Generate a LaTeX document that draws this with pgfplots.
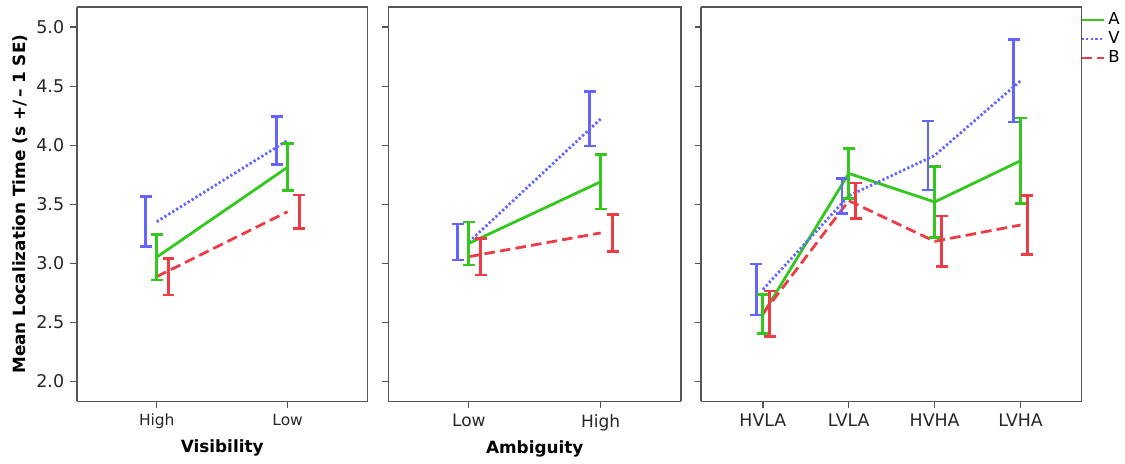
\documentclass[border=0pt]{standalone}
\usepackage{fontspec}
\setmainfont{DejaVu Sans}
\usepackage{pgfplots}
\usepackage{pgfplotstable}
\pgfplotsset{compat=1.18}
\definecolor{cA}{RGB}{52,200,30}
\definecolor{cV}{RGB}{100,100,255}
\definecolor{cB}{RGB}{238,60,70}
\definecolor{frame}{RGB}{85,85,85}

% x, mean and half SE bar per group
\pgfplotstableread{
x  A      Ae     V      Ve     B      Be
0  3.052  0.193  3.352  0.211  2.887  0.155
1  3.814  0.200  4.041  0.204  3.437  0.140
}\visib
\pgfplotstableread{
x  A      Ae     V      Ve     B      Be
0  3.168  0.182  3.180  0.152  3.056  0.155
1  3.690  0.231  4.222  0.230  3.257  0.158
}\ambig
\pgfplotstableread{
x  A      Ae     V      Ve     B      Be
0  2.568  0.165  2.778  0.215  2.573  0.193
1  3.761  0.212  3.571  0.148  3.530  0.150
2  3.519  0.299  3.913  0.293  3.186  0.214
3  3.868  0.361  4.545  0.348  3.324  0.248
}\combo

\pgfplotsset{
  panel/.style={
    scale only axis, height=7.90cm,
    anchor=south west,
    ymin=1.83, ymax=5.17,
    ytick={2,2.5,...,5},
    axis line style={frame, line width=0.8pt},
    axis x line*=bottom, axis y line*=left,
    tick align=outside, tick style={frame, line width=0.7pt},
    major tick length=0.13cm,
    xtick=data,
    yticklabel style={font=\fontsize{10}{12}\selectfont, text=black!85},
    xticklabel style={font=\fontsize{8.8}{10}\selectfont, text=black!85},
    xlabel style={font=\bfseries\fontsize{9.6}{11}\selectfont, yshift=1pt},
    /pgf/number format/assume math mode=true,
    /pgf/number format/fixed, /pgf/number format/fixed zerofill,
    /pgf/number format/precision=1,
    clip=false,
  },
  boxtop/.style={
    after end axis/.code={
      \draw[frame, line width=0.8pt] (rel axis cs:0,1) -- (rel axis cs:1,1) -- (rel axis cs:1,0);
    }
  },
  lineA/.style={cA, line width=1.6pt, no marks},
  lineV/.style={cV, line width=1.6pt, no marks, dash pattern=on 1.3pt off 1.3pt},
  lineB/.style={cB, line width=1.6pt, no marks, dash pattern=on 6pt off 3pt},
  ebar/.style={draw=none, no marks, forget plot,
    error bars/.cd, y dir=both, y explicit,
    error bar style={draw=#1, solid, line width=1.6pt},
    error mark options={draw=#1, solid, line width=1.5pt, mark size=3.4pt, rotate=90}},
}

\begin{document}
\begin{tikzpicture}
\path (0,0) rectangle (22.5cm,9.2cm);

% Visibility
\begin{axis}[panel, boxtop, at={(1.54cm,1.16cm)}, width=5.82cm,
  xmin=-0.61, xmax=1.61, xticklabels={High,Low},
  xlabel={Visibility},
  ylabel={Mean Localization Time (s +/\,– 1 SE)},
  ylabel style={font=\bfseries\fontsize{9.6}{11}\selectfont, yshift=-2pt}]
  \addplot[lineV] table[x=x, y=V] {\visib};
  \addplot[lineA] table[x=x, y=A] {\visib};
  \addplot[lineB] table[x=x, y=B] {\visib};
  \addplot[ebar=cV] table[x expr=\thisrow{x}-0.084, y=V, y error=Ve] {\visib};
  \addplot[ebar=cA] table[x=x, y=A, y error=Ae] {\visib};
  \addplot[ebar=cB] table[x expr=\thisrow{x}+0.09, y=B, y error=Be] {\visib};
\end{axis}

% Ambiguity
\begin{axis}[panel, boxtop, at={(7.78cm,1.16cm)}, width=5.86cm,
  xmin=-0.61, xmax=1.61, xticklabels={Low,High},
  xticklabel style={font=\fontsize{9.7}{11}\selectfont},
  yticklabels={},
  xlabel={Ambiguity}]
  \addplot[lineV] table[x=x, y=V] {\ambig};
  \addplot[lineA] table[x=x, y=A] {\ambig};
  \addplot[lineB] table[x=x, y=B] {\ambig};
  \addplot[ebar=cV] table[x expr=\thisrow{x}-0.084, y=V, y error=Ve] {\ambig};
  \addplot[ebar=cA] table[x=x, y=A, y error=Ae] {\ambig};
  \addplot[ebar=cB] table[x expr=\thisrow{x}+0.09, y=B, y error=Be] {\ambig};
\end{axis}

% Combined
\begin{axis}[panel, boxtop, at={(14.04cm,1.16cm)}, width=7.62cm,
  xmin=-0.72, xmax=3.71, xticklabels={HVLA,LVLA,HVHA,LVHA},
  xticklabel style={font=\fontsize{9.9}{11}\selectfont},
  yticklabels={},
  legend style={at={(1,1)}, anchor=north west, draw=none, fill=none,
    font=\fontsize{9.4}{11}\selectfont, row sep=-1.5pt, xshift=-2pt, yshift=0pt,
    inner sep=1pt},
  legend cell align=left,
  legend image code/.code={\draw[#1] (0cm,0cm) -- (0.44cm,0cm);}]
  \addplot[lineA] table[x=x, y=A] {\combo};
  \addplot[lineV] table[x=x, y=V] {\combo};
  \addplot[lineB] table[x=x, y=B] {\combo};
  \legend{A,V,B}
  \addplot[ebar=cV] table[x expr=\thisrow{x}-0.078, y=V, y error=Ve] {\combo};
  \addplot[ebar=cA] table[x=x, y=A, y error=Ae] {\combo};
  \addplot[ebar=cB] table[x expr=\thisrow{x}+0.08, y=B, y error=Be] {\combo};
\end{axis}
\end{tikzpicture}
\end{document}
